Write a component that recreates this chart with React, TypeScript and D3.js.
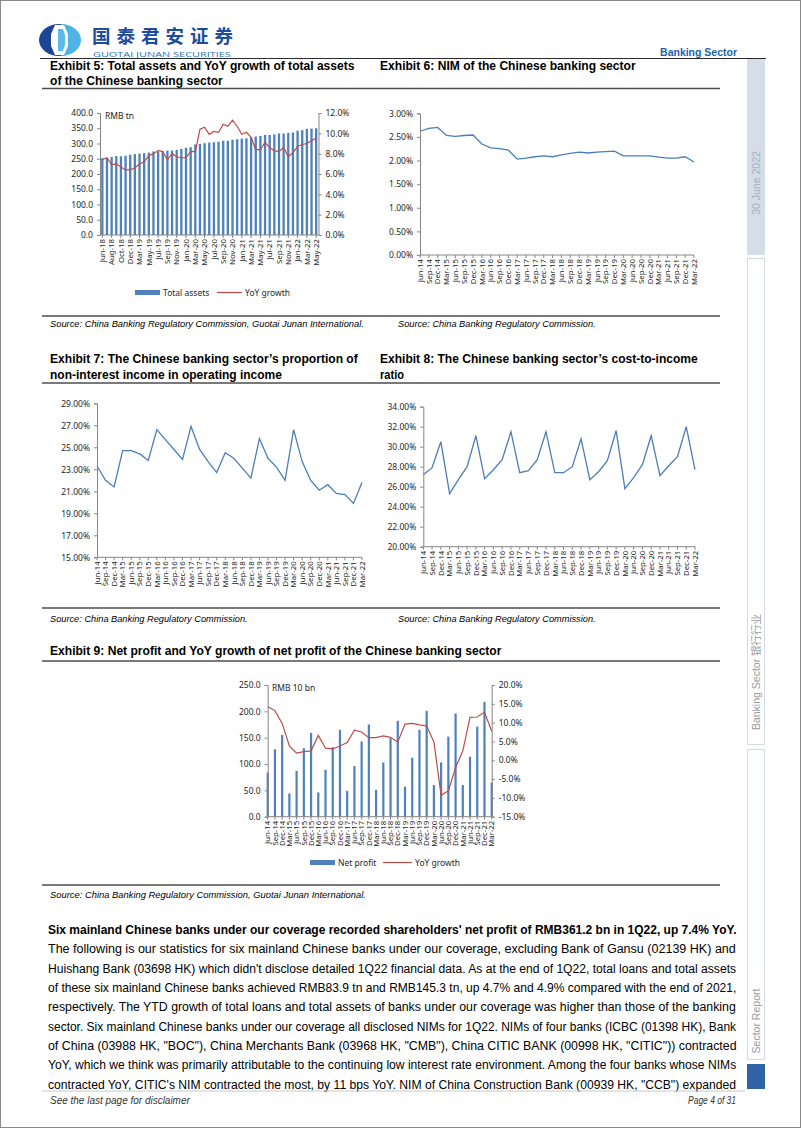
import React, { useEffect, useRef } from "react";
import * as d3 from "d3";

// Exhibit 5: monthly, Jun-18 .. May-22 (no Jan-19 point in the source series)
const assetMonths = [
  "Jun-18", "Jul-18", "Aug-18", "Sep-18", "Oct-18", "Nov-18", "Dec-18",
  "Feb-19", "Mar-19", "Apr-19", "May-19", "Jun-19", "Jul-19", "Aug-19", "Sep-19", "Oct-19", "Nov-19", "Dec-19",
  "Jan-20", "Feb-20", "Mar-20", "Apr-20", "May-20", "Jun-20", "Jul-20", "Aug-20", "Sep-20", "Oct-20", "Nov-20", "Dec-20",
  "Jan-21", "Feb-21", "Mar-21", "Apr-21", "May-21", "Jun-21", "Jul-21", "Aug-21", "Sep-21", "Oct-21", "Nov-21", "Dec-21",
  "Jan-22", "Feb-22", "Mar-22", "Apr-22", "May-22",
];
const totalAssets = [
  252, 253, 256, 259, 258, 260, 263,
  265, 267, 268, 270, 274, 273, 275, 277, 277, 279, 282,
  286, 288, 297, 299, 301, 303, 304, 306, 309, 309, 312, 314,
  316, 317, 321, 323, 325, 328, 328, 330, 333, 333, 335, 336,
  342, 344, 348, 349, 350,
];
const assetYoY = [
  7.4, 7.6, 6.9, 7.0, 6.7, 6.4, 6.4,
  6.6, 7.0, 7.2, 7.8, 8.0, 8.3, 8.2, 7.4, 8.0, 7.7, 7.6,
  7.6, 8.2, 8.2, 10.4, 10.6, 9.9, 10.2, 10.1, 10.9, 10.7, 11.3, 10.7,
  9.9, 10.1, 9.6, 8.4, 8.4, 9.1, 8.6, 8.3, 8.2, 8.6, 7.7, 8.1,
  8.7, 8.9, 9.0, 9.3, 9.5,
];

// Exhibits 6-9: quarterly, Jun-14 .. Mar-22
const quarters = [
  "Jun-14", "Sep-14", "Dec-14", "Mar-15", "Jun-15", "Sep-15", "Dec-15", "Mar-16",
  "Jun-16", "Sep-16", "Dec-16", "Mar-17", "Jun-17", "Sep-17", "Dec-17", "Mar-18",
  "Jun-18", "Sep-18", "Dec-18", "Mar-19", "Jun-19", "Sep-19", "Dec-19", "Mar-20",
  "Jun-20", "Sep-20", "Dec-20", "Mar-21", "Jun-21", "Sep-21", "Dec-21", "Mar-22",
];
const nim = [
  2.62, 2.68, 2.7, 2.53, 2.51, 2.53, 2.54, 2.35,
  2.27, 2.25, 2.22, 2.03, 2.05, 2.08, 2.1, 2.08,
  2.12, 2.15, 2.18, 2.16, 2.18, 2.19, 2.2, 2.1,
  2.1, 2.1, 2.1, 2.07, 2.05, 2.05, 2.08, 1.97,
];
const nonInterestShare = [
  23.3, 22.0, 21.4, 24.7, 24.7, 24.4, 23.8, 26.6,
  25.7, 24.8, 23.9, 26.9, 24.8, 23.7, 22.7, 24.5,
  24.0, 23.1, 22.2, 25.8, 24.0, 23.2, 22.0, 26.6,
  23.7, 22.0, 21.1, 21.6, 20.8, 20.7, 19.9, 21.8,
];
const costToIncome = [
  27.2, 27.9, 30.5, 25.3, 26.7, 28.0, 31.1, 26.8,
  27.7, 28.7, 31.5, 27.4, 27.6, 28.7, 31.5, 27.4,
  27.4, 28.0, 30.8, 26.7, 27.5, 28.6, 31.6, 25.8,
  26.9, 28.2, 31.1, 27.1, 28.1, 29.0, 32.0, 27.7,
];
const netProfit = [
  84, 128, 155, 44, 87, 130, 159, 46,
  89, 132, 165, 49, 96, 143, 175, 51,
  103, 149, 182, 57, 112, 165, 201, 60,
  103, 152, 196, 60, 114, 171, 218, 65,
];
const profitYoY = [
  14.2, 13.2, 9.8, 3.8, 1.9, 2.3, 2.5, 6.6,
  3.2, 3.0, 3.8, 4.7, 8.0, 7.5, 6.0, 6.0,
  6.5, 6.1, 4.8, 9.6, 9.8, 9.4, 9.1, 4.9,
  -9.3, -8.1, -2.0, 2.5, 11.4, 11.5, 12.8, 7.7,
];

const bodyLines = [
  "The following is our statistics for six mainland Chinese banks under our coverage, excluding Bank of Gansu (02139 HK) and",
  "Huishang Bank (03698 HK) which didn't disclose detailed 1Q22 financial data. As at the end of 1Q22, total loans and total assets",
  "of these six mainland Chinese banks achieved RMB83.9 tn and RMB145.3 tn, up 4.7% and 4.9% compared with the end of 2021,",
  "respectively. The YTD growth of total loans and total assets of banks under our coverage was higher than those of the banking",
  "sector. Six mainland Chinese banks under our coverage all disclosed NIMs for 1Q22. NIMs of four banks (ICBC (01398 HK), Bank",
  "of China (03988 HK, \"BOC\"), China Merchants Bank (03968 HK, \"CMB\"), China CITIC BANK (00998 HK, \"CITIC\")) contracted",
  "YoY, which we think was primarily attributable to the continuing low interest rate environment. Among the four banks whose NIMs",
  "contracted YoY, CITIC's NIM contracted the most, by 11 bps YoY. NIM of China Construction Bank (00939 HK, \"CCB\") expanded",
];

const AXIS_C = "#868686";
const BAR_C = "#4f81bd";
const BLUE_LINE = "#4a7ebb";
const RED_LINE = "#be4b48";
const TICK_FONT = "'Noto Sans', 'DejaVu Sans', sans-serif";
const TEXT_FONT = "'Liberation Sans Narrow', 'Arial Narrow', 'Liberation Sans', Arial, sans-serif";

export default function App() {
  const ref = useRef<SVGSVGElement>(null);

  useEffect(() => {
    const svg = d3.select(ref.current);
    svg.selectAll("*").remove();

    // text helper; "width" squeezes the glyphs horizontally to the measured width of the original
    const text = (s: string, x: number, y: number, o: any = {}) => {
      const t = svg
        .append("text")
        .attr("x", x)
        .attr("y", y)
        .attr("font-family", o.font || TEXT_FONT)
        .attr("font-size", o.size || 12)
        .attr("font-weight", o.weight || "normal")
        .attr("font-style", o.italic ? "italic" : "normal")
        .attr("fill", o.fill || "#000")
        .attr("text-anchor", o.anchor || "start")
        .text(s);
      if (o.width && o.adjust === "spacing") {
        t.attr("textLength", o.width).attr("lengthAdjust", "spacing");
      } else if (o.width) {
        const len = (t.node() as SVGTextElement).getComputedTextLength();
        if (len > 0) t.attr("transform", `translate(${x},0) scale(${o.width / len},1) translate(${-x},0)`);
      }
      if (o.rotate) t.attr("transform", `rotate(-90,${x},${y})`).attr("dy", "0.35em");
      return t;
    };
    const hline = (x1: number, x2: number, y: number, stroke = "#4d4d4d", w = 1.5) =>
      svg.append("line").attr("x1", x1).attr("x2", x2).attr("y1", y).attr("y2", y).attr("stroke", stroke).attr("stroke-width", w);

    const yAxis = (scale: any, x: number, right: boolean, values: number[], fmt: (d: number) => string) => {
      const axis = (right ? d3.axisRight(scale) : d3.axisLeft(scale)).tickValues(values).tickFormat(fmt as any).tickSize(3).tickPadding(4);
      const g = svg.append("g").attr("transform", `translate(${x},0)`).call(axis as any);
      g.attr("font-family", TICK_FONT).attr("font-size", 8.5);
      g.select(".domain").attr("stroke", AXIS_C);
      g.selectAll(".tick line").attr("stroke", AXIS_C);
      g.selectAll(".tick text").attr("fill", "#262626");
    };
    const xAxis = (cats: string[], pos: (i: number) => number, y: number, x0: number, x1: number, every: number) => {
      svg.append("line").attr("x1", x0).attr("x2", x1).attr("y1", y).attr("y2", y).attr("stroke", AXIS_C);
      cats.forEach((c, i) => {
        if (i % every) return;
        const x = pos(i);
        svg.append("line").attr("x1", x).attr("x2", x).attr("y1", y).attr("y2", y + 3).attr("stroke", AXIS_C);
        svg
          .append("text")
          .attr("transform", `translate(${x},${y + 4}) rotate(-90)`)
          .attr("text-anchor", "end")
          .attr("dy", "0.35em")
          .attr("font-family", TICK_FONT)
          .attr("font-size", 7.8)
          .attr("fill", "#262626")
          .text(c);
      });
    };
    const pct = (digits: number) => (d: number) => d.toFixed(digits) + "%";

    // ---------- page frame & header ----------
    svg.append("rect").attr("x", 0.5).attr("y", 0.5).attr("width", 800).attr("height", 1127).attr("fill", "#fff").attr("stroke", "#8a8a8a");

    const logo = svg.append("g").attr("transform", "translate(59,40)");
    logo.append("ellipse").attr("rx", 20).attr("ry", 16).attr("fill", "#1c4596");
    logo.append("path").attr("d", "M2,-16 A20,16 0 0 1 2,16 Z").attr("fill", "#4fb3e6");
    logo.append("path").attr("d", "M-4,-15 L5,-15 L9,-6 L9,6 L5,15 L-4,15 L-8,6 L-8,-6 Z").attr("fill", "#fff");
    logo.append("path").attr("d", "M-1,-11 L4,-11 L6,-5 L6,5 L4,11 L-1,11 Z").attr("fill", "#5bbbe9");

    text("国泰君安证券", 92, 43, { font: "'Noto Sans CJK SC', sans-serif", size: 18.5, weight: 700, fill: "#1b4c9e", width: 141, adjust: "spacing" });
    text("GUOTAI JUNAN SECURITIES", 93, 57, { font: "'Open Sans', 'Noto Sans', sans-serif", size: 6.8, fill: "#2b73b8", width: 138 });
    text("Banking  Sector", 737, 56, { size: 11.5, weight: 700, fill: "#1f5fa8", anchor: "end", width: 77 });
    hline(40, 766, 58.5, "#2b2b2b", 1.2);

    // ---------- right side bar ----------
    svg.append("rect").attr("x", 747).attr("y", 59).attr("width", 18).attr("height", 196).attr("fill", "#d5dee8");
    text("30 June 2022", 756, 183, { size: 10.5, fill: "#a7afb8", anchor: "middle", rotate: true, font: "'Liberation Sans', Arial, sans-serif" });
    svg.append("rect").attr("x", 747.5).attr("y", 258.5).attr("width", 17).attr("height", 486).attr("fill", "none").attr("stroke", "#d3dae2");
    text("Banking Sector 银行行业", 756, 672, { size: 10.5, fill: "#9a9a9a", anchor: "middle", rotate: true, font: "'Liberation Sans', 'Noto Sans CJK SC', sans-serif" });
    svg.append("rect").attr("x", 747.5).attr("y", 749.5).attr("width", 17).attr("height", 310).attr("fill", "none").attr("stroke", "#d3dae2");
    text("Sector Report", 756, 1021, { size: 10.5, fill: "#9a9a9a", anchor: "middle", rotate: true, font: "'Liberation Sans', Arial, sans-serif" });
    svg.append("rect").attr("x", 747).attr("y", 1064).attr("width", 18).attr("height", 25).attr("fill", "#2f63a6");

    // ---------- titles / sources ----------
    const tOpt = (w: number) => ({ size: 12.5, weight: 700, width: w });
    text("Exhibit 5: Total assets and YoY growth of total assets", 50, 70, tOpt(305));
    text("of the Chinese banking sector", 50, 85, tOpt(173));
    text("Exhibit 6: NIM of the Chinese banking sector", 380, 70, tOpt(256));
    hline(42, 720, 88.5);
    hline(42, 720, 316);
    const sOpt = (w: number) => ({ size: 9.5, italic: true, width: w, font: "'Liberation Sans', Arial, sans-serif" });
    text("Source: China Banking Regulatory Commission, Guotai Junan International.", 50, 327, sOpt(314));
    text("Source: China Banking Regulatory Commission.", 398, 327, sOpt(198));

    text("Exhibit 7: The Chinese banking sector’s proportion of", 50, 363, tOpt(308));
    text("non-interest income in operating income", 50, 379, tOpt(232));
    text("Exhibit 8: The Chinese banking sector’s cost-to-income", 380, 363, tOpt(318));
    text("ratio", 380, 379, tOpt(24));
    hline(42, 720, 383);
    hline(42, 720, 608);
    text("Source: China Banking Regulatory Commission.", 50, 622, sOpt(198));
    text("Source: China Banking Regulatory Commission.", 398, 622, sOpt(198));

    text("Exhibit 9: Net profit and YoY growth of net profit of the Chinese banking sector", 50, 655, tOpt(452));
    hline(42, 720, 661);
    hline(42, 720, 885);
    text("Source: China Banking Regulatory Commission, Guotai Junan International.", 50, 898, sOpt(316));

    // ---------- body text ----------
    text("Six mainland Chinese banks under our coverage recorded shareholders' net profit of RMB361.2 bn in 1Q22, up 7.4% YoY.", 48, 934, {
      size: 13.5, weight: 700, width: 689,
    });
    bodyLines.forEach((l, i) => text(l, 48, 953.5 + i * 19.3, { size: 13.5, width: 689 }));
    hline(42, 745, 1091, "#c8c8c8", 1);
    text("See  the last page for disclaimer", 50, 1104, { size: 10, italic: true, fill: "#333", width: 140, font: "'Liberation Sans', Arial, sans-serif" });
    text("Page 4 of 31", 736, 1104, { size: 10, italic: true, fill: "#333", anchor: "end", width: 48, font: "'Liberation Sans', Arial, sans-serif" });

    // ---------- Exhibit 5 ----------
    {
      const x = d3.scaleBand<number>().domain(d3.range(assetMonths.length)).range([100, 318.5]).paddingInner(0.5).paddingOuter(0.25);
      const yL = d3.scaleLinear().domain([0, 400]).range([235, 113]);
      const yR = d3.scaleLinear().domain([0, 12]).range([235, 113]);
      const cx = (i: number) => x(i)! + x.bandwidth() / 2;
      svg
        .append("g")
        .selectAll("rect")
        .data(totalAssets)
        .join("rect")
        .attr("x", (_d, i) => x(i)!)
        .attr("y", (d) => yL(d))
        .attr("width", x.bandwidth())
        .attr("height", (d) => yL(0) - yL(d))
        .attr("fill", BAR_C);
      svg
        .append("path")
        .datum(assetYoY)
        .attr("fill", "none")
        .attr("stroke", RED_LINE)
        .attr("stroke-width", 1.2)
        .attr("d", d3.line<number>().x((_d, i) => cx(i)).y((d) => yR(d)));
      yAxis(yL, 100, false, d3.range(0, 401, 50), (d) => d.toFixed(1));
      yAxis(yR, 318.5, true, d3.range(0, 12.1, 2), pct(1));
      xAxis(assetMonths, cx, 235, 100, 318.5, 2);
      text("RMB  tn", 105, 119, { font: TICK_FONT, size: 8.5, fill: "#262626" });
      svg.append("rect").attr("x", 135).attr("y", 290).attr("width", 25).attr("height", 5).attr("fill", BAR_C);
      text("Total assets", 163, 295.5, { font: TICK_FONT, size: 8.5, fill: "#262626" });
      hline(217, 242, 292.5, RED_LINE, 1.2);
      text("YoY growth", 245, 295.5, { font: TICK_FONT, size: 8.5, fill: "#262626" });
    }

    // ---------- Exhibit 6 ----------
    {
      const x = d3.scalePoint<number>().domain(d3.range(quarters.length)).range([420, 694]);
      const y = d3.scaleLinear().domain([0, 3]).range([255, 113.3]);
      svg
        .append("path")
        .datum(nim)
        .attr("fill", "none")
        .attr("stroke", BLUE_LINE)
        .attr("stroke-width", 1.3)
        .attr("d", d3.line<number>().x((_d, i) => x(i)!).y((d) => y(d)));
      yAxis(y, 420, false, d3.range(0, 3.01, 0.5), pct(2));
      xAxis(quarters, (i) => x(i)!, 255, 420, 694, 1);
    }

    // ---------- Exhibit 7 ----------
    {
      const x = d3.scalePoint<number>().domain(d3.range(quarters.length)).range([97, 362]);
      const y = d3.scaleLinear().domain([15, 29]).range([557.3, 403.3]);
      svg
        .append("path")
        .datum(nonInterestShare)
        .attr("fill", "none")
        .attr("stroke", BLUE_LINE)
        .attr("stroke-width", 1.3)
        .attr("d", d3.line<number>().x((_d, i) => x(i)!).y((d) => y(d)));
      yAxis(y, 97, false, d3.range(15, 29.1, 2), pct(2));
      xAxis(quarters, (i) => x(i)!, 557.3, 97, 362, 1);
    }

    // ---------- Exhibit 8 ----------
    {
      const x = d3.scalePoint<number>().domain(d3.range(quarters.length)).range([423.3, 695]);
      const y = d3.scaleLinear().domain([20, 34]).range([546.7, 406.7]);
      svg
        .append("path")
        .datum(costToIncome)
        .attr("fill", "none")
        .attr("stroke", BLUE_LINE)
        .attr("stroke-width", 1.3)
        .attr("d", d3.line<number>().x((_d, i) => x(i)!).y((d) => y(d)));
      yAxis(y, 423.3, false, d3.range(20, 34.1, 2), pct(2));
      xAxis(quarters, (i) => x(i)!, 546.7, 423.3, 695, 1);
    }

    // ---------- Exhibit 9 ----------
    {
      const x = d3.scalePoint<number>().domain(d3.range(quarters.length)).range([267.7, 491.7]);
      const yL = d3.scaleLinear().domain([0, 250]).range([816.7, 685]);
      const yR = d3.scaleLinear().domain([-15, 20]).range([816.7, 685]);
      svg
        .append("g")
        .selectAll("rect")
        .data(netProfit)
        .join("rect")
        .attr("x", (_d, i) => x(i)! - 1.1)
        .attr("y", (d) => yL(d))
        .attr("width", 2.2)
        .attr("height", (d) => yL(0) - yL(d))
        .attr("fill", BAR_C);
      svg
        .append("path")
        .datum(profitYoY)
        .attr("fill", "none")
        .attr("stroke", RED_LINE)
        .attr("stroke-width", 1.2)
        .attr("d", d3.line<number>().x((_d, i) => x(i)!).y((d) => yR(d)));
      yAxis(yL, 267.7, false, d3.range(0, 251, 50), (d) => d.toFixed(1));
      yAxis(yR, 491.7, true, d3.range(-15, 20.1, 5), pct(1));
      xAxis(quarters, (i) => x(i)!, 816.7, 267.7, 491.7, 1);
      text("RMB 10 bn", 272, 691, { font: TICK_FONT, size: 8.5, fill: "#262626" });
      svg.append("rect").attr("x", 310).attr("y", 860).attr("width", 25).attr("height", 5).attr("fill", BAR_C);
      text("Net profit", 338, 865.5, { font: TICK_FONT, size: 8.5, fill: "#262626" });
      hline(383, 412, 862.5, RED_LINE, 1.2);
      text("YoY growth", 415, 865.5, { font: TICK_FONT, size: 8.5, fill: "#262626" });
    }
  }, []);

  return <svg ref={ref} width={802} height={1133} style={{ position: "absolute", left: 0, top: 0, background: "#fff" }} />;
}
